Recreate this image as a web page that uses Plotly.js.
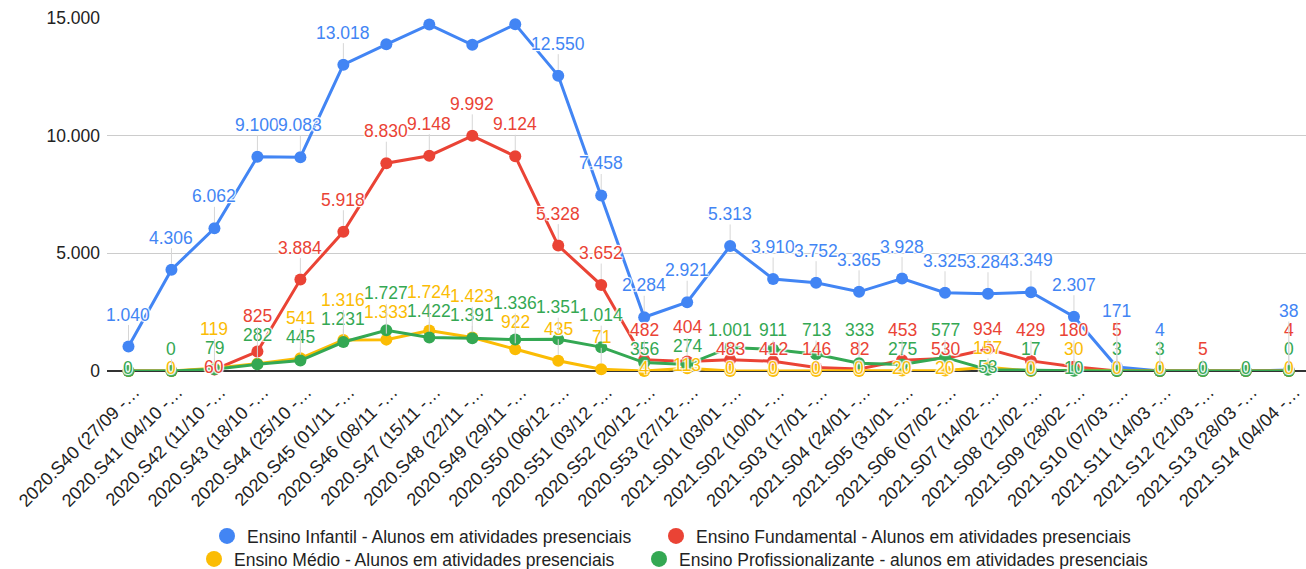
<!DOCTYPE html>
<html><head><meta charset="utf-8">
<script src="https://cdn.plot.ly/plotly-3.0.1.min.js"></script>
<style>html,body{margin:0;padding:0;background:#fff}#chart{width:1306px;height:569px}</style>
</head><body><div id="chart"></div>
<script>
const categories = [
  "2020.S40 (27/09 -…","2020.S41 (04/10 -…","2020.S42 (11/10 -…","2020.S43 (18/10 -…",
  "2020.S44 (25/10 -…","2020.S45 (01/11 -…","2020.S46 (08/11 -…","2020.S47 (15/11 -…",
  "2020.S48 (22/11 -…","2020.S49 (29/11 -…","2020.S50 (06/12 -…","2020.S51 (03/12 -…",
  "2020.S52 (20/12 -…","2020.S53 (27/12 -…","2021.S01 (03/01 -…","2021.S02 (10/01 -…",
  "2021.S03 (17/01 -…","2021.S04 (24/01 -…","2021.S05 (31/01 -…","2021.S06 (07/02 -…",
  "2021.S07 (14/02 -…","2021.S08 (21/02 -…","2021.S09 (28/02 -…","2021.S10 (07/03 -…",
  "2021.S11 (14/03 -…","2021.S12 (21/03 -…","2021.S13 (28/03 -…","2021.S14 (04/04 -…"
];
const infantil = [1040,4306,6062,9100,9083,13018,13880,14720,13860,14730,12550,7458,2284,2921,
  5313,3910,3752,3365,3928,3325,3284,3349,2307,171,4,0,0,38];
const fundamental = [0,0,60,825,3884,5918,8830,9148,9992,9124,5328,3652,482,404,
  483,412,146,82,453,530,934,429,180,5,0,5,0,4];
const medio = [0,0,119,310,541,1316,1333,1724,1423,922,435,71,4,113,
  0,0,0,0,20,20,157,0,30,0,0,0,0,0];
const profissionalizante = [0,0,79,282,445,1231,1727,1422,1391,1336,1351,1014,356,274,
  1001,911,713,333,275,577,53,17,10,3,3,0,0,0];
// category indexes whose value label is not shown in the reference
const hiddenInfantil = [6,7,8,9,25,26];
const hiddenFundamental = [0,1,24,26];
const hiddenMedio = [0,3,25,26];
const hiddenProfissionalizante = [];

const names = [
  "Ensino Infantil - Alunos em atividades presenciais",
  "Ensino Fundamental - Alunos em atividades presenciais",
  "Ensino Médio - Alunos em atividades presenciais",
  "Ensino Profissionalizante - alunos em atividades presenciais"
];
const colors = ["#4285F4","#EA4335","#FBBC04","#34A853"];
const series = [infantil, fundamental, medio, profissionalizante];
const hidden = [hiddenInfantil, hiddenFundamental, hiddenMedio, hiddenProfissionalizante];
const legendIds = ["legend","legend2","legend3","legend4"];

const FONT = "Liberation Sans, Arial, sans-serif";
const fmt = v => String(v).replace(/\B(?=(\d{3})+(?!\d))/g, ".");

const traces = [];
series.forEach((vals, s) => {
  traces.push({
    type: "scatter", mode: "lines+markers", x: categories, y: vals,
    line: {color: colors[s], width: 3}, marker: {color: colors[s], size: 12},
    showlegend: false, hoverinfo: "skip", cliponaxis: false
  });
});
series.forEach((vals, s) => {
  traces.push({
    type: "scatter", mode: "markers", x: [null], y: [null], name: names[s],
    marker: {color: colors[s], size: 16}, legend: legendIds[s], hoverinfo: "skip"
  });
});

// label placement: natural offset above the point; labels that overlap are spread apart
const TOP = 18, BOTTOM = 371, YMAX = 15000;
const pxPer = (BOTTOM - TOP) / YMAX;
const OFFSET = 32, GAP = 19, LOW = 3;
const halo = "1px 1px 1px #fff, -1px -1px 1px #fff, 1px -1px 1px #fff, -1px 1px 1px #fff";
const annotations = [];
categories.forEach((cat, i) => {
  const items = [];
  let hiddenZeros = 0;
  series.forEach((vals, s) => {
    const py = vals[i] * pxPer;
    if (hidden[s].includes(i)) { if (vals[i] <= 5) hiddenZeros++; return; }
    items.push({s, v: vals[i], py, nat: py + OFFSET});
  });
  items.sort((a, b) => a.nat - b.nat || a.v - b.v || a.s - b.s);
  let blocks = items.map(it => ({items: [it]}));
  const place = b => {
    const mean = b.items.reduce((t, it) => t + it.nat, 0) / b.items.length;
    b.start = mean - (b.items.length - 1) / 2 * GAP;
  };
  blocks.forEach(place);
  let merged = true;
  while (merged) {
    merged = false;
    for (let j = 1; j < blocks.length; j++) {
      const p = blocks[j - 1], c = blocks[j];
      if (c.start < p.start + p.items.length * GAP) {
        p.items = p.items.concat(c.items); place(p);
        blocks.splice(j, 1); merged = true; break;
      }
    }
  }
  blocks.forEach((b, bi) => {
    const n = b.items.length + (bi === 0 ? hiddenZeros : 0);
    let prev = -Infinity;
    b.items.forEach((it, k) => {
      let pos;
      if (n >= 3) pos = Math.max(it.py + LOW, prev + GAP);
      else pos = b.start + k * GAP;
      prev = pos;
      const off = pos - it.py;
      const a = {
        x: cat, y: it.v, xref: "x", yref: "y", text: fmt(it.v),
        font: {family: FONT, size: 17.5, color: colors[it.s], shadow: halo},
        borderpad: 0
      };
      if (off >= 16) {
        Object.assign(a, {showarrow: true, ax: 0, ay: -off, arrowhead: 0, arrowwidth: 1,
          arrowcolor: "#d6d6d6", standoff: 6});
      } else {
        Object.assign(a, {showarrow: false, yshift: off});
      }
      annotations.push(a);
    });
  });
});

// legend entries (text start x in px, row centre y in px)
const legendTextX = [248, 697, 235, 680];
const legendRowY = [536, 536, 559, 559];
const legendFont = {family: FONT, size: 17.5, color: "#222"};

const layout = {
  width: 1306, height: 569,
  margin: {l: 107, r: 0, t: TOP, b: 569 - BOTTOM},
  paper_bgcolor: "#fff", plot_bgcolor: "#fff",
  separators: ",.",
  font: {family: FONT, size: 17.5, color: "#222"},
  xaxis: {
    type: "category", range: [-0.5, 27.4], tickmode: "linear", tick0: 0, dtick: 1,
    tickangle: -45, showgrid: false, showline: false, zeroline: false, ticks: "",
    ticklabelshift: 6, ticklabelstandoff: 6,
    tickfont: {family: FONT, size: 18, color: "#222"}, fixedrange: true
  },
  yaxis: {
    range: [0, YMAX], tickvals: [0, 5000, 10000, 15000], tickformat: ",d",
    gridcolor: "#cccccc", gridwidth: 1, zeroline: true, zerolinecolor: "#333", zerolinewidth: 1.5,
    showline: false, ticks: "", ticklabelstandoff: 6,
    tickfont: {family: FONT, size: 17.5, color: "#222"}, fixedrange: true
  },
  annotations: annotations,
  showlegend: true
};
legendIds.forEach((id, s) => {
  layout[id] = {
    orientation: "h", xref: "container", yref: "container",
    x: (legendTextX[s] - 41) / 1306, xanchor: "left",
    y: 1 - legendRowY[s] / 569, yanchor: "middle", itemwidth: 30,
    font: legendFont, bgcolor: "rgba(0,0,0,0)", borderwidth: 0
  };
});

Plotly.newPlot("chart", traces, layout, {displayModeBar: false, staticPlot: true});
</script>
</body></html>
